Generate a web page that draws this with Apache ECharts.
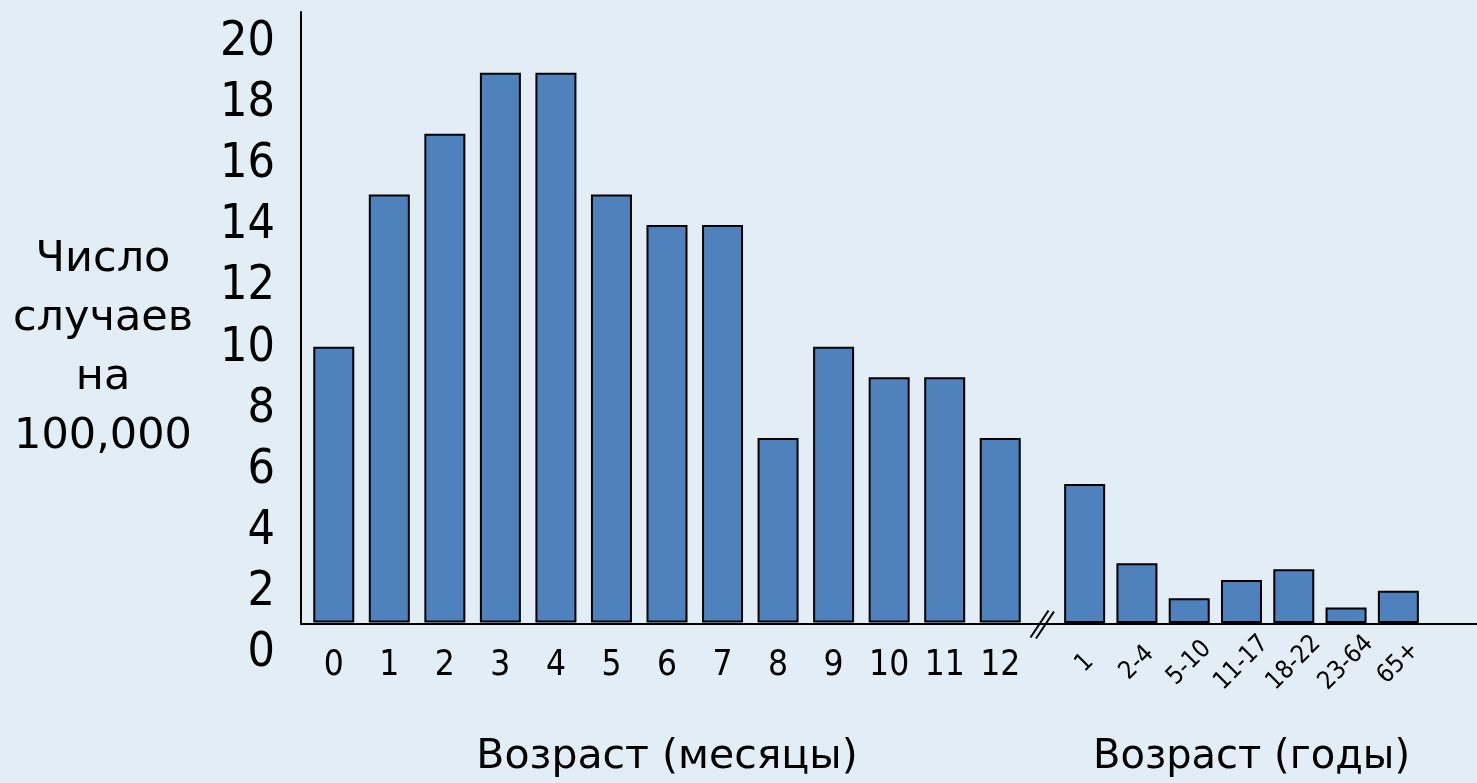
<!DOCTYPE html>
<html>
<head>
<meta charset="utf-8">
<title>Число случаев на 100,000</title>
<script src="https://cdn.jsdelivr.net/npm/echarts@6.0.0/dist/echarts.min.js"></script>
<style>
  html, body { margin: 0; padding: 0; background: #e3edf6; }
  #main { width: 1477px; height: 783px; }
</style>
</head>
<body>
<div id="main"></div>
<script>
// данные
var monthLabels = ['0', '1', '2', '3', '4', '5', '6', '7', '8', '9', '10', '11', '12'];
var monthValues = [10, 15, 17, 19, 19, 15, 14, 14, 7, 10, 9, 9, 7];
var yearLabels = ['1', '2-4', '5-10', '11-17', '18-22', '23-64', '65+'];
var yearValues = [5.5, 2.9, 1.75, 2.35, 2.7, 1.45, 2.0];
var yTicks = [0, 2, 4, 6, 8, 10, 12, 14, 16, 18, 20];

var font = 'DejaVu Sans';
var fontNarrow = 'DejaVu Sans Condensed, DejaVu Sans';
var barColor = '#4f81bd';

// ось X на картинке проходит чуть выше нуля подписей
var barMin = 0.97, barMax = 21;

var myChart = echarts.init(document.getElementById('main'));

var barStyle = { color: barColor, borderColor: '#000', borderWidth: 2 };

myChart.setOption({
  backgroundColor: '#e3edf6',
  animation: false,
  grid: [
    // рамка: линии осей
    { left: 301, right: 0, top: 12, bottom: 159 },
    // подписи шкалы Y
    { left: 301, right: 0, top: 42.5, bottom: 129.4 },
    // месяцы
    { left: 306, width: 722, top: 12, bottom: 159 },
    // годы
    { left: 1058.5, width: 366, top: 12, bottom: 159 }
  ],
  xAxis: [
    { gridIndex: 0, type: 'value', min: 0, max: 1,
      axisLine: { show: true, onZero: false, lineStyle: { color: '#000', width: 2 } },
      axisTick: { show: false }, axisLabel: { show: false }, splitLine: { show: false } },
    { gridIndex: 1, type: 'value', min: 0, max: 1, show: false },
    { gridIndex: 2, type: 'category', data: monthLabels,
      axisLine: { show: false }, axisTick: { show: false },
      axisLabel: { fontFamily: fontNarrow, fontSize: 35, color: '#000', margin: 44, verticalAlign: 'middle' },
      name: 'Возраст (месяцы)', nameLocation: 'middle', nameGap: 136,
      nameTextStyle: { fontFamily: font, fontSize: 41, color: '#000', verticalAlign: 'middle' } },
    { gridIndex: 3, type: 'category', data: yearLabels,
      axisLine: { show: false }, axisTick: { show: false },
      axisLabel: { fontFamily: fontNarrow, fontSize: 25, color: '#000', rotate: 45, margin: 41,
        align: 'center', verticalAlign: 'middle', interval: 0 },
      name: 'Возраст (годы)', nameLocation: 'middle', nameGap: 136,
      nameTextStyle: { fontFamily: font, fontSize: 40, color: '#000', verticalAlign: 'middle', padding: [0, 0, 0, 20] } }
  ],
  yAxis: [
    { gridIndex: 0, type: 'value', min: 0, max: 1,
      axisLine: { show: true, onZero: false, lineStyle: { color: '#000', width: 2 } },
      axisTick: { show: false }, axisLabel: { show: false }, splitLine: { show: false } },
    { gridIndex: 1, type: 'value', min: yTicks[0], max: yTicks[yTicks.length - 1], interval: 2,
      axisLine: { show: false }, axisTick: { show: false }, splitLine: { show: false },
      axisLabel: { fontFamily: fontNarrow, fontSize: 48, color: '#000', margin: 26 },
      name: 'Число\nслучаев\nна\n100,000', nameLocation: 'middle', nameRotate: 0, nameGap: 198,
      nameTextStyle: { fontFamily: font, fontSize: 43, color: '#000', align: 'center', lineHeight: 59 } },
    { gridIndex: 2, type: 'value', min: barMin, max: barMax, show: false },
    { gridIndex: 3, type: 'value', min: barMin, max: barMax, show: false }
  ],
  series: [
    { type: 'bar', xAxisIndex: 2, yAxisIndex: 2, data: monthValues, barWidth: 41,
      clip: true, itemStyle: barStyle },
    { type: 'bar', xAxisIndex: 3, yAxisIndex: 3, data: yearValues, barWidth: 41,
      clip: true, itemStyle: barStyle }
  ],
  // знак разрыва оси
  graphic: [
    { type: 'line', shape: { x1: 1030.5, y1: 637.5, x2: 1048.5, y2: 610.5 },
      style: { stroke: '#000', lineWidth: 2 } },
    { type: 'line', shape: { x1: 1036, y1: 638.5, x2: 1054, y2: 611.5 },
      style: { stroke: '#000', lineWidth: 2 } }
  ]
});
</script>
</body>
</html>
